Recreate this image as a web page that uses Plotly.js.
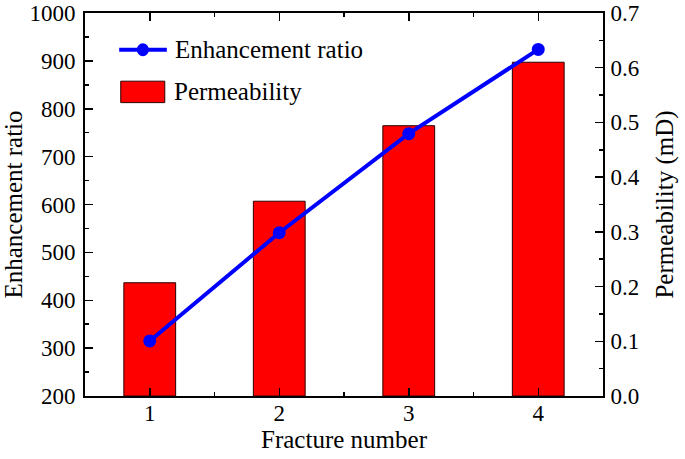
<!DOCTYPE html>
<html>
<head>
<meta charset="utf-8">
<script src="https://cdn.plot.ly/plotly-3.0.1.min.js"></script>
<style>
  body { margin: 0; background: #fff; }
  #chart { width: 685px; height: 459px; }
</style>
</head>
<body>
<div id="chart"></div>
<script>
// data
var fractureNumber = [1, 2, 3, 4];
var enhancementRatio = [315, 541, 748, 924];
var permeability = [0.207, 0.356, 0.494, 0.610];

var serif = 'Liberation Serif';

// bars on the right-hand axis (y), line on the left-hand axis (y2) so it is drawn on top
var barTrace = {
    x: fractureNumber,
    y: permeability,
    type: 'bar',
    yaxis: 'y',
    width: 0.4,
    name: 'Permeability',
    marker: { color: '#ff0000', line: { color: '#2a0000', width: 1 } },
    showlegend: false
};

var lineTrace = {
    x: fractureNumber,
    y: enhancementRatio,
    type: 'scatter',
    mode: 'lines+markers',
    yaxis: 'y2',
    name: 'Enhancement ratio',
    line: { color: '#0000ff', width: 4 },
    marker: { color: '#0000ff', size: 13, line: { width: 0 } },
    showlegend: false
};

var data = [barTrace, lineTrace];

var tickStyle = { ticks: 'inside', ticklen: 8, tickwidth: 1.5, tickcolor: '#000' };

var layout = {
    width: 685,
    height: 459,
    margin: { l: 85, r: 82, t: 13, b: 63 },
    paper_bgcolor: '#ffffff',
    plot_bgcolor: '#ffffff',
    font: { family: serif, size: 23, color: '#000' },
    xaxis: Object.assign({
        range: [0.5, 4.5],
        tickvals: [1, 2, 3, 4],
        minor: { dtick: 0.5, tick0: 0.5, ticks: 'inside', ticklen: 4, tickwidth: 1.5, tickcolor: '#000' },
        showline: true,
        linecolor: '#000',
        linewidth: 2,
        mirror: 'ticks',
        showgrid: false,
        zeroline: false,
        ticklabelstandoff: -5,
        title: { text: 'Fracture number', font: { family: serif, size: 25 }, standoff: 5 }
    }, tickStyle),
    yaxis: Object.assign({
        side: 'right',
        range: [0, 0.7],
        dtick: 0.1,
        tickformat: '.1f',
        minor: { dtick: 0.05, ticks: 'inside', ticklen: 4, tickwidth: 1.5, tickcolor: '#000' },
        showline: true,
        linecolor: '#000',
        linewidth: 2,
        showgrid: false,
        zeroline: false,
        ticklabelstandoff: 1,
        title: { text: 'Permeability (mD)', font: { family: serif, size: 25 }, standoff: 17 }
    }, tickStyle),
    yaxis2: Object.assign({
        overlaying: 'y',
        side: 'left',
        range: [200, 1000],
        dtick: 100,
        minor: { dtick: 50, ticks: 'inside', ticklen: 4, tickwidth: 1.5, tickcolor: '#000' },
        showline: true,
        linecolor: '#000',
        linewidth: 2,
        showgrid: false,
        zeroline: false,
        ticklabelstandoff: 3,
        title: { text: 'Enhancement ratio', font: { family: serif, size: 25 }, standoff: 12 }
    }, tickStyle),
    // hand-made legend, Origin style
    shapes: [
        { type: 'line', xref: 'paper', yref: 'paper', x0: 0.066, x1: 0.158, y0: 0.904, y1: 0.904,
          line: { color: '#0000ff', width: 4 } },
        { type: 'circle', xref: 'paper', yref: 'paper', x0: 0.0999, x1: 0.1235, y0: 0.887, y1: 0.921,
          fillcolor: '#0000ff', line: { color: '#0000ff', width: 0 } },
        { type: 'rect', xref: 'paper', yref: 'paper', x0: 0.069, x1: 0.154, y0: 0.766, y1: 0.822,
          fillcolor: '#ff0000', line: { color: '#2a0000', width: 1 } }
    ],
    annotations: [
        { xref: 'paper', yref: 'paper', x: 0.169, y: 0.904, xanchor: 'left', yanchor: 'middle',
          text: 'Enhancement ratio', showarrow: false, font: { family: serif, size: 25 } },
        { xref: 'paper', yref: 'paper', x: 0.167, y: 0.794, xanchor: 'left', yanchor: 'middle',
          text: 'Permeability', showarrow: false, font: { family: serif, size: 25 } }
    ]
};

Plotly.newPlot('chart', data, layout, { displayModeBar: false, staticPlot: true });
</script>
</body>
</html>
